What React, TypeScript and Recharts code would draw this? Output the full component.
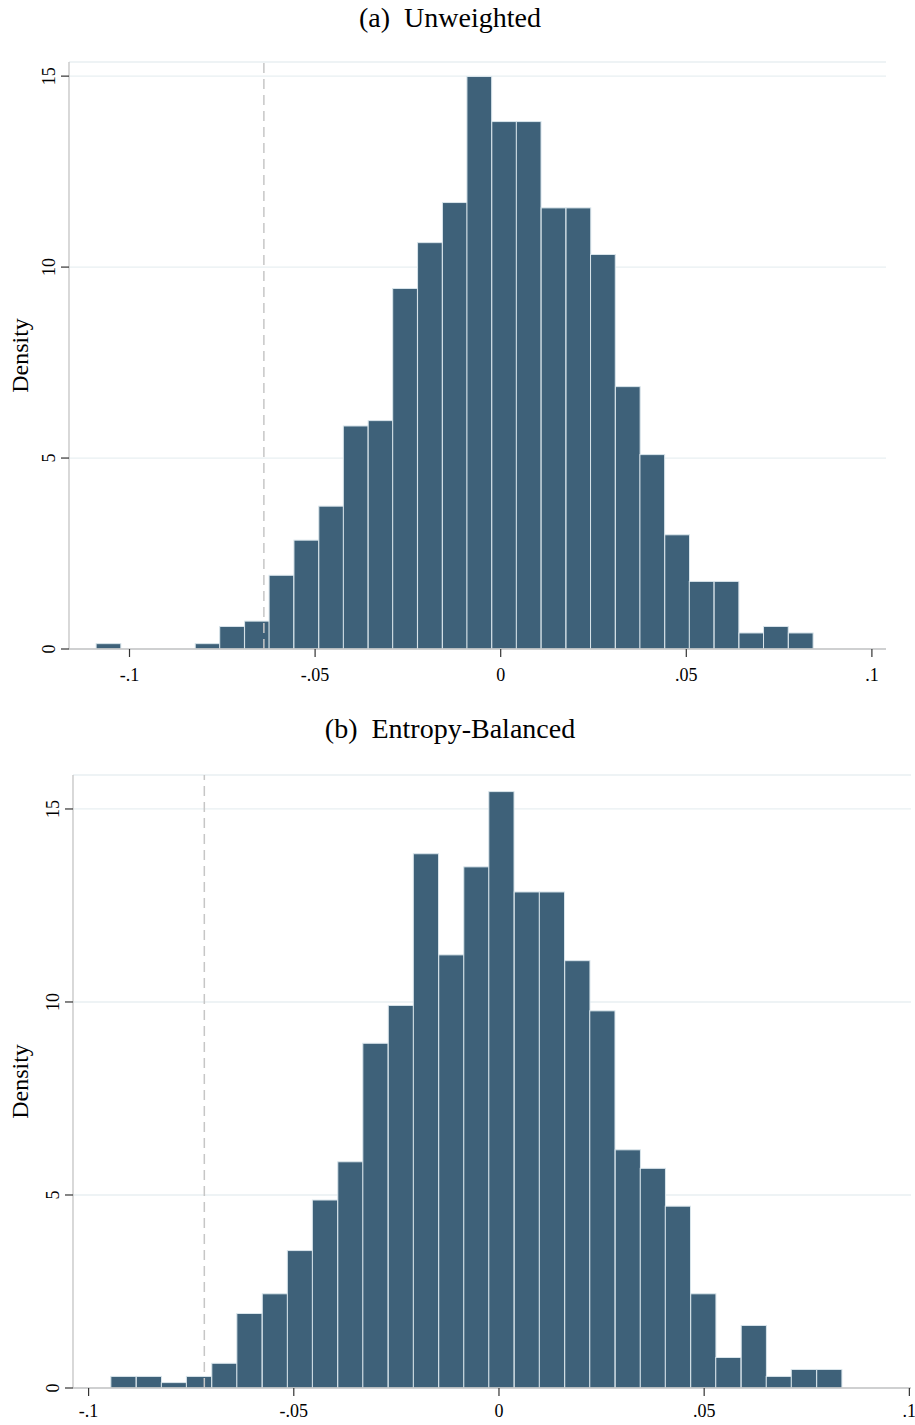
import { BarChart, Bar, XAxis, YAxis, CartesianGrid, ReferenceLine } from 'recharts';

// (a) Unweighted: bin centres and densities
const unweightedBins = [
  -0.1056, -0.0989, -0.0923, -0.0856, -0.0789, -0.0723, -0.0656, -0.0590, -0.0523, -0.0456,
  -0.0390, -0.0323, -0.0257, -0.0190, -0.0123, -0.0057, 0.0010, 0.0076, 0.0143, 0.0210,
  0.0276, 0.0343, 0.0409, 0.0476, 0.0542, 0.0609, 0.0676, 0.0742, 0.0809,
];
const unweightedDensity = [
  0.14, 0, 0, 0, 0.14, 0.59, 0.73, 1.93, 2.85, 3.74,
  5.84, 5.98, 9.44, 10.64, 11.69, 14.99, 13.81, 13.81, 11.55, 11.55,
  10.33, 6.87, 5.09, 2.99, 1.77, 1.77, 0.42, 0.59, 0.42,
];
const unweightedBinWidth = 0.00666;
const unweightedObserved = -0.0638;

// (b) Entropy-Balanced
const balancedBins = [
  -0.0915, -0.0853, -0.0792, -0.0731, -0.0669, -0.0608, -0.0546, -0.0485, -0.0424, -0.0362,
  -0.0301, -0.0239, -0.0178, -0.0116, -0.0055, 0.0006, 0.0068, 0.0129, 0.0191, 0.0252,
  0.0314, 0.0375, 0.0436, 0.0498, 0.0559, 0.0621, 0.0682, 0.0743, 0.0805,
];
const balancedDensity = [
  0.30, 0.30, 0.14, 0.30, 0.64, 1.93, 2.44, 3.56, 4.87, 5.86,
  8.93, 9.91, 13.84, 11.22, 13.50, 15.45, 12.85, 12.85, 11.07, 9.77,
  6.17, 5.69, 4.71, 2.44, 0.79, 1.62, 0.30, 0.48, 0.48,
];
const balancedBinWidth = 0.006142;
const balancedObserved = -0.0718;

const xTicks = [-0.1, -0.05, 0, 0.05, 0.1];
const xTickLabels = ['-.1', '-.05', '0', '.05', '.1'];
const yTicks = [0, 5, 10, 15];

const SERIF = '"Liberation Serif", "Times New Roman", serif';
const BAR_FILL = '#3e6179';
const BAR_EDGE = '#d9e5eb';
const AXIS_GRAY = '#c4c4c4';
const GRID = '#e8eff2';
const WIDTH = 915;

function RotatedYTick(props: any) {
  const { x, y, payload } = props;
  return (
    <text
      transform={`translate(${x - 4}, ${y}) rotate(-90)`}
      textAnchor="middle"
      fontFamily={SERIF}
      fontSize={18}
      fill="#000"
    >
      {payload.value}
    </text>
  );
}

function DensityLabel(props: any) {
  const vb = props.viewBox || {};
  const cy = vb.y + vb.height / 2;
  return (
    <text
      transform={`translate(28, ${cy}) rotate(-90)`}
      textAnchor="middle"
      fontFamily={SERIF}
      fontSize={24}
      fill="#000"
    >
      Density
    </text>
  );
}

interface PanelProps {
  bins: number[];
  density: number[];
  binWidth: number;
  observed: number;
  xDomain: [number, number];
  yMax: number;
  height: number;
  margin: { top: number; right: number; bottom: number; left: number };
  yAxisWidth: number;
  xAxisHeight: number;
  tickMargin: number;
}

function HistPanel(p: PanelProps) {
  const data = p.bins.map((b, i) => ({ bin: b, density: p.density[i] }));
  const plotWidth = WIDTH - p.margin.left - p.margin.right - p.yAxisWidth;
  const binPx = (plotWidth * p.binWidth) / (p.xDomain[1] - p.xDomain[0]);

  // recharts centres each bar on its bin; redraw it with the true bin width
  const binShape = (s: any) => {
    if (!s.height || s.height <= 0) return <g />;
    const cx = s.x + s.width / 2;
    return (
      <rect
        x={cx - binPx / 2}
        y={s.y}
        width={binPx}
        height={s.height}
        fill={BAR_FILL}
        stroke={BAR_EDGE}
        strokeWidth={1}
      />
    );
  };

  return (
    <BarChart width={WIDTH} height={p.height} data={data} margin={p.margin} barCategoryGap={0}>
      <CartesianGrid vertical={false} stroke={GRID} strokeWidth={1.3} />
      <XAxis
        dataKey="bin"
        type="number"
        domain={p.xDomain}
        allowDataOverflow
        ticks={xTicks}
        tickFormatter={(v: number) => xTickLabels[xTicks.indexOf(v)] ?? String(v)}
        height={p.xAxisHeight}
        tickSize={8}
        tickMargin={p.tickMargin}
        axisLine={{ stroke: AXIS_GRAY, strokeWidth: 1.3 }}
        tickLine={{ stroke: '#333', strokeWidth: 1.2 }}
        tick={{ fontFamily: SERIF, fontSize: 18, fill: '#000' }}
        interval={0}
      />
      <YAxis
        type="number"
        domain={[0, p.yMax]}
        allowDataOverflow
        ticks={yTicks}
        width={p.yAxisWidth}
        tickSize={8}
        axisLine={{ stroke: AXIS_GRAY, strokeWidth: 1.3 }}
        tickLine={{ stroke: '#333', strokeWidth: 1.2 }}
        tick={<RotatedYTick />}
        interval={0}
        label={{ content: <DensityLabel /> }}
      />
      <ReferenceLine
        x={p.observed}
        stroke="#c6c6c6"
        strokeWidth={1.5}
        strokeDasharray="10 6"
      />
      <Bar
        dataKey="density"
        fill={BAR_FILL}
        shape={binShape}
        isAnimationActive={false}
      />
    </BarChart>
  );
}

const titleStyle: React.CSSProperties = {
  position: 'absolute',
  left: 0,
  width: 900,
  textAlign: 'center',
  fontFamily: SERIF,
  fontSize: 28,
  lineHeight: '28px',
  whiteSpace: 'pre',
  color: '#000',
};

export default function App() {
  return (
    <div style={{ position: 'absolute', left: 0, top: 0, width: WIDTH, height: 1425, background: '#fff' }}>
      <div style={{ position: 'absolute', left: 0, top: 0 }}>
        <HistPanel
          bins={unweightedBins}
          density={unweightedDensity}
          binWidth={unweightedBinWidth}
          observed={unweightedObserved}
          xDomain={[-0.1163, 0.1038]}
          yMax={15.37}
          height={700}
          margin={{ top: 62, right: 29, bottom: 6, left: 0 }}
          yAxisWidth={69}
          xAxisHeight={45}
          tickMargin={11}
        />
      </div>
      <div style={{ position: 'absolute', left: 0, top: 700 }}>
        <HistPanel
          bins={balancedBins}
          density={balancedDensity}
          binWidth={balancedBinWidth}
          observed={balancedObserved}
          xDomain={[-0.1038, 0.1004]}
          yMax={15.88}
          height={725}
          margin={{ top: 75, right: 4, bottom: 0, left: 0 }}
          yAxisWidth={73}
          xAxisHeight={37}
          tickMargin={8}
        />
      </div>
      <div style={{ ...titleStyle, top: 4 }}>(a)  Unweighted</div>
      <div style={{ ...titleStyle, top: 715 }}>(b)  Entropy-Balanced</div>
    </div>
  );
}
